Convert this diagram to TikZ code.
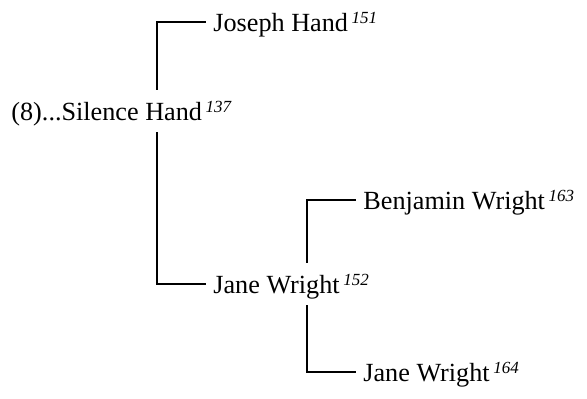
\documentclass[tikz,border=0pt]{standalone}
\usepackage{fontspec}
\setmainfont{Liberation Serif}
\newcommand{\refno}[1]{\hspace{0.14em}\raisebox{0.34em}{\fontsize{8.5}{10}\selectfont\itshape #1}}

\begin{document}
\begin{tikzpicture}[x=0.5pt, y=-0.5pt,
  person/.style={anchor=west, inner xsep=3.5pt, inner ysep=0pt, text height=15.5pt, text depth=5.5pt, font=\fontsize{13.1}{15}\selectfont},
  branch/.style={color=black, line width=0.6pt}]
  \useasboundingbox (0,0) rectangle (587,399);
  \node[person] (silence) at (4, 111) {(8)...Silence Hand\refno{137}};
  \node[person] (joseph) at (206, 22) {Joseph Hand\refno{151}};
  \node[person] (jane) at (206, 284) {Jane Wright\refno{152}};
  \node[person] (benjamin) at (356, 200) {Benjamin Wright\refno{163}};
  \node[person] (janejr) at (356, 372) {Jane Wright\refno{164}};
  \coordinate (trunkA) at (157, 0);
  \coordinate (trunkB) at (307, 0);

  \draw[branch] (silence.north -| trunkA) |- (joseph.west);
  \draw[branch] (silence.south -| trunkA) |- (jane.west);
  \draw[branch] (jane.north -| trunkB) |- (benjamin.west);
  \draw[branch] (jane.south -| trunkB) |- (janejr.west);
\end{tikzpicture}
\end{document}
